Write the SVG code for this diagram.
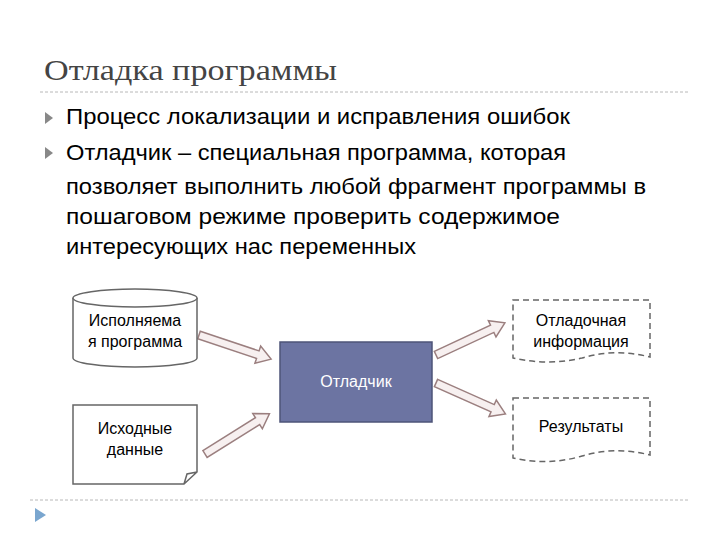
<svg xmlns="http://www.w3.org/2000/svg" width="720" height="540" viewBox="0 0 720 540">
<defs>
<style>
.t{font-family:"Liberation Sans",Arial,sans-serif;fill:#000}
.b{font-size:22px}
.n{font-size:16px;text-anchor:middle}
.sep{stroke:#b8b8b8;stroke-dasharray:3 2;stroke-width:1}
.shape{fill:#fff;stroke:#666;stroke-width:1.5}
.dash{fill:#fff;stroke:#666;stroke-width:1.5;stroke-dasharray:6 4}
.arr{fill:#f7f0f0;stroke:#9b7f7f;stroke-width:1.5}
</style>
<polygon id="ba" points="0,-4 62,-4 62,-9 76,0 62,9 62,4 0,4"/>
</defs>
<rect width="720" height="540" fill="#fff"/>
<text x="44" y="80" textLength="293" lengthAdjust="spacingAndGlyphs" style="font-family:'Liberation Serif',serif;font-size:29px;fill:#444">Отладка программы</text>
<line class="sep" x1="40" y1="92" x2="688" y2="92"/>
<polygon points="45,112 53,118 45,124" fill="#888"/>
<polygon points="45,147 53,153 45,159" fill="#888"/>
<text class="t b" x="66" y="124" textLength="504" lengthAdjust="spacingAndGlyphs">Процесс локализации и исправления ошибок</text>
<text class="t b" x="66" y="160" textLength="500" lengthAdjust="spacingAndGlyphs">Отладчик – специальная программа, которая</text>
<text class="t b" x="66" y="194" textLength="580" lengthAdjust="spacingAndGlyphs">позволяет выполнить любой фрагмент программы в</text>
<text class="t b" x="66" y="224" textLength="494" lengthAdjust="spacingAndGlyphs">пошаговом режиме  проверить содержимое</text>
<text class="t b" x="66" y="254" textLength="350" lengthAdjust="spacingAndGlyphs">интересующих нас переменных</text>

<g id="connectors">
<use href="#ba" class="arr" transform="translate(199,335) rotate(18.5)"/>
<use href="#ba" class="arr" transform="translate(205,454) rotate(-32)"/>
<use href="#ba" class="arr" transform="translate(436,355) rotate(-25)"/>
<use href="#ba" class="arr" transform="translate(436,383) rotate(24)"/>
</g>

<g id="exe">
<path class="shape" d="M73,298 L73,358 A62,9 0 0 0 197,358 L197,298"/>
<ellipse class="shape" cx="135" cy="298" rx="62" ry="9"/>
<text class="t n" x="135" y="326">Исполняема</text>
<text class="t n" x="135" y="347">я программа</text>
</g>
<g id="data">
<path class="shape" d="M73,405 L197,405 L197,472 L184,484 L73,484 Z M184,484 L187,474 L197,472"/>
<text class="t n" x="135" y="434">Исходные</text>
<text class="t n" x="135" y="455">данные</text>
</g>
<g id="debugger">
<rect x="280" y="342" width="152" height="80" fill="#6c74a2" stroke="#4d5478" stroke-width="1.5"/>
<text class="n" x="356" y="387" style="font-family:'Liberation Sans',Arial,sans-serif;fill:#fff">Отладчик</text>
</g>
<g id="info">
<path class="dash" d="M513,300 L650,300 L650,357 Q615,348 582,358 Q548,366 513,358 Z"/>
<text class="t n" x="581" y="326">Отладочная</text>
<text class="t n" x="581" y="347">информация</text>
</g>
<g id="results">
<path class="dash" d="M513,398 L650,398 L650,455 Q615,446 582,456 Q548,466 513,458 Z"/>
<text class="t n" x="581" y="432">Результаты</text>
</g>
<line class="sep" x1="30" y1="500" x2="688" y2="500"/>
<polygon points="35,508 46,515 35,522" fill="#7aa6cf"/>
</svg>
